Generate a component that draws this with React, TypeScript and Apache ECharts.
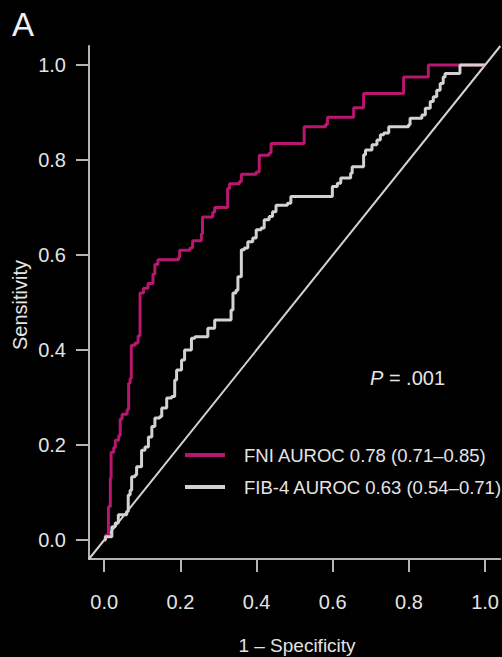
import React, { useEffect, useRef } from "react";
import * as echarts from "echarts";

const tickValues = [0, 0.2, 0.4, 0.6, 0.8, 1.0];

const fniFpr = [0, 0.003, 0.011, 0.011, 0.016, 0.018, 0.025, 0.029, 0.038, 0.042, 0.047, 0.06, 0.064, 0.068, 0.071, 0.081, 0.089, 0.094, 0.103, 0.115, 0.128, 0.133, 0.141, 0.195, 0.198, 0.225, 0.232, 0.255, 0.258, 0.285, 0.29, 0.316, 0.324, 0.329, 0.355, 0.36, 0.399, 0.407, 0.433, 0.438, 0.52, 0.525, 0.564, 0.581, 0.586, 0.651, 0.655, 0.677, 0.681, 0.777, 0.786, 0.851, 0.851, 1.0];
const fniSens = [0, 0.01, 0.03, 0.07, 0.13, 0.185, 0.195, 0.21, 0.22, 0.255, 0.265, 0.275, 0.33, 0.34, 0.41, 0.415, 0.43, 0.52, 0.53, 0.54, 0.56, 0.58, 0.59, 0.595, 0.61, 0.615, 0.63, 0.645, 0.68, 0.69, 0.7, 0.7, 0.74, 0.75, 0.755, 0.77, 0.775, 0.81, 0.815, 0.835, 0.835, 0.87, 0.87, 0.875, 0.89, 0.89, 0.91, 0.91, 0.94, 0.94, 0.975, 0.98, 1.0, 1.0];

const fibFpr = [0, 0.003, 0.02, 0.029, 0.037, 0.059, 0.063, 0.068, 0.072, 0.081, 0.085, 0.098, 0.098, 0.107, 0.116, 0.125, 0.133, 0.146, 0.151, 0.164, 0.164, 0.177, 0.185, 0.19, 0.203, 0.211, 0.229, 0.238, 0.268, 0.272, 0.29, 0.325, 0.333, 0.338, 0.346, 0.351, 0.36, 0.368, 0.377, 0.39, 0.399, 0.412, 0.42, 0.433, 0.442, 0.451, 0.481, 0.49, 0.595, 0.599, 0.612, 0.621, 0.647, 0.651, 0.681, 0.686, 0.703, 0.716, 0.725, 0.734, 0.747, 0.799, 0.803, 0.834, 0.843, 0.856, 0.864, 0.873, 0.882, 0.89, 0.895, 0.93, 0.934, 1.0];
const fibSens = [0, 0.007, 0.028, 0.036, 0.053, 0.06, 0.095, 0.105, 0.133, 0.137, 0.154, 0.162, 0.189, 0.196, 0.217, 0.239, 0.257, 0.26, 0.278, 0.284, 0.299, 0.302, 0.337, 0.358, 0.379, 0.4, 0.425, 0.428, 0.428, 0.446, 0.463, 0.463, 0.484, 0.52, 0.526, 0.554, 0.611, 0.615, 0.628, 0.636, 0.653, 0.657, 0.674, 0.681, 0.691, 0.705, 0.709, 0.723, 0.723, 0.744, 0.751, 0.762, 0.772, 0.786, 0.811, 0.821, 0.832, 0.842, 0.853, 0.857, 0.87, 0.874, 0.888, 0.895, 0.909, 0.923, 0.933, 0.947, 0.961, 0.975, 0.982, 0.982, 1.0, 1.0];

const diagX = [-0.04, 1.04];
const diagY = [-0.04, 1.04];

const seriesNames = ["FNI AUROC 0.78 (0.71–0.85)", "FIB-4 AUROC 0.63 (0.54–0.71)"];
const panelLabel = "A";
const pText = ".001";
const xName = "1 – Specificity";
const yName = "Sensitivity";

const MAGENTA = "#b8176f";
const GREY = "#d2d2d2";
const AXIS = "#b4b4b4";
const TEXT = "#e4e4e4";
const FONT = "Liberation Sans, Arial, sans-serif";

function pairs(xs: number[], ys: number[]) {
  return xs.map((x, i) => [x, ys[i]]);
}

export default function App() {
  const ref = useRef<HTMLDivElement>(null);
  useEffect(() => {
    if (!ref.current) return;
    const chart = echarts.init(ref.current, null, { renderer: "svg" });
    const axisCommon = {
      type: "value" as const,
      min: -0.04,
      max: 1.04,
      splitLine: { show: false },
      axisLine: { show: true, onZero: false, lineStyle: { color: AXIS, width: 2 } },
      axisTick: { show: true, customValues: tickValues, length: 13, lineStyle: { color: AXIS, width: 2 } },
    };
    chart.setOption({
      animation: false,
      backgroundColor: "#000000",
      grid: { left: 89, right: 0, top: 46, bottom: 98 },
      xAxis: {
        ...axisCommon,
        axisLabel: {
          customValues: tickValues,
          formatter: (v: number) => v.toFixed(1),
          color: TEXT,
          fontSize: 20,
          fontFamily: FONT,
          margin: 33,
        },
      },
      yAxis: {
        ...axisCommon,
        axisLabel: {
          customValues: tickValues,
          formatter: (v: number) => v.toFixed(1),
          color: TEXT,
          fontSize: 20,
          fontFamily: FONT,
          margin: 23,
        },
      },
      series: [
        {
          type: "line",
          data: pairs(diagX, diagY),
          symbol: "none",
          lineStyle: { color: GREY, width: 2 },
          z: 1,
        },
        {
          name: seriesNames[0],
          type: "line",
          step: "end",
          data: pairs(fniFpr, fniSens),
          symbol: "none",
          lineStyle: { color: MAGENTA, width: 3 },
          z: 2,
        },
        {
          name: seriesNames[1],
          type: "line",
          step: "end",
          data: pairs(fibFpr, fibSens),
          symbol: "none",
          lineStyle: { color: GREY, width: 3 },
          z: 3,
        },
      ],
      graphic: [
        {
          type: "text",
          left: 12,
          top: 8,
          style: { text: panelLabel, fill: "#f0f0f0", fontSize: 33, fontFamily: FONT },
        },
        {
          type: "text",
          x: 20,
          y: 305,
          rotation: Math.PI / 2,
          style: { text: yName, fill: TEXT, fontSize: 20, fontFamily: FONT, align: "center", verticalAlign: "middle" },
        },
        {
          type: "text",
          x: 297,
          y: 645,
          style: { text: xName, fill: TEXT, fontSize: 19, fontFamily: FONT, align: "center", verticalAlign: "middle" },
        },
        {
          type: "text",
          x: 370,
          y: 378,
          style: {
            text: "{i|P} = " + pText,
            fill: TEXT,
            fontSize: 20,
            fontFamily: FONT,
            verticalAlign: "middle",
            rich: { i: { fontStyle: "italic", fill: TEXT, fontSize: 20, fontFamily: FONT } },
          },
        },
        {
          type: "line",
          shape: { x1: 185, y1: 455, x2: 225, y2: 455 },
          style: { stroke: MAGENTA, lineWidth: 4 },
        },
        {
          type: "line",
          shape: { x1: 185, y1: 487, x2: 225, y2: 487 },
          style: { stroke: GREY, lineWidth: 4 },
        },
        {
          type: "text",
          x: 244,
          y: 455,
          style: { text: seriesNames[0], fill: TEXT, fontSize: 18.5, fontFamily: FONT, verticalAlign: "middle" },
        },
        {
          type: "text",
          x: 244,
          y: 487,
          style: { text: seriesNames[1], fill: TEXT, fontSize: 18.5, fontFamily: FONT, verticalAlign: "middle" },
        },
      ],
    });
    return () => chart.dispose();
  }, []);
  return <div ref={ref} style={{ position: "fixed", left: 0, top: 0, width: 502, height: 657 }} />;
}
